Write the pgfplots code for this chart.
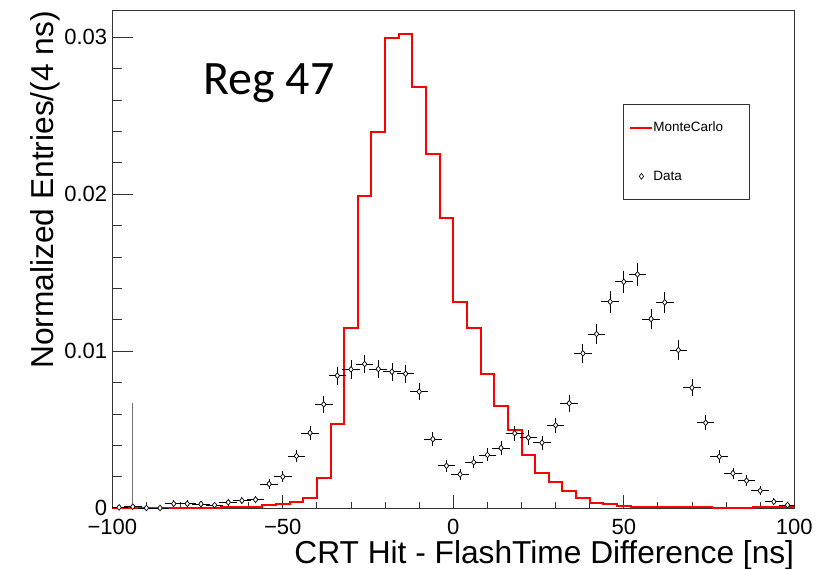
\documentclass[border=0pt]{standalone}
\usepackage{pgfplots}
\pgfplotsset{compat=1.18}
\usepackage{pgfplotstable}
\usepackage{fontspec}
\setmainfont{Liberation Sans}
\newfontfamily\carlito{Carlito}

\pgfplotsset{
  mcimg/.style={legend image code/.code={\draw[##1] (0pt,0pt) -- (22pt,0pt);}},
  dataimg/.style={legend image code/.code={\draw[mark repeat=2,mark phase=2,##1] plot coordinates {(0pt,0pt) (11pt,0pt) (22pt,0pt)};}},
  samebox/.style={at={(112.3pt,60.7pt)}, anchor=south west,
    scale only axis, width=682pt, height=497.3pt,
    xmin=-100, xmax=100, ymin=0, ymax=0.03168},
}

\pgfplotstableread{
x y
-100 0.00003
-96 0.00003
-92 0.00003
-88 0.00003
-84 0.00004
-80 0.00004
-76 0.00005
-72 0.00005
-68 0.00006
-64 0.00008
-60 0.00010
-56 0.00020
-52 0.00027
-48 0.00042
-44 0.00064
-40 0.00191
-36 0.00537
-32 0.01146
-28 0.01989
-24 0.02395
-20 0.02994
-16 0.03019
-12 0.02682
-8 0.02255
-4 0.01847
0 0.01316
4 0.01146
8 0.00855
12 0.00650
16 0.00499
20 0.00340
24 0.00227
28 0.00165
32 0.00109
36 0.00066
40 0.00034
44 0.00025
48 0.00017
52 0.00010
56 0.00009
60 0.00008
64 0.00007
68 0.00006
72 0.00006
76 0.00005
80 0.00005
84 0.00005
88 0.00006
92 0.00008
96 0.00007
100 0.00007
}\mctable

\pgfplotstableread{
x y ex ey
-98 0.00006 2 0.00004
-94 0.00010 2 0.00005
-90 0.00002 2 0.00008
-86 0.00002 2 0.00004
-82 0.00029 2 0.00008
-78 0.00029 2 0.00008
-74 0.00027 2 0.00008
-70 0.00020 2 0.00007
-66 0.00038 2 0.00010
-62 0.00049 2 0.00011
-58 0.00055 2 0.00011
-54 0.00155 2 0.00019
-50 0.00201 2 0.00022
-46 0.00333 2 0.00028
-42 0.00480 2 0.00034
-38 0.00662 2 0.00040
-34 0.00845 2 0.00045
-30 0.00885 2 0.00046
-26 0.00919 2 0.00047
-22 0.00887 2 0.00046
-18 0.00870 2 0.00046
-14 0.00857 2 0.00045
-10 0.00743 2 0.00042
-6 0.00441 2 0.00033
-2 0.00271 2 0.00025
2 0.00216 2 0.00023
6 0.00293 2 0.00026
10 0.00340 2 0.00029
14 0.00384 2 0.00030
18 0.00478 2 0.00034
22 0.00450 2 0.00033
26 0.00418 2 0.00032
30 0.00529 2 0.00036
34 0.00669 2 0.00040
38 0.00987 2 0.00049
42 0.01110 2 0.00052
46 0.01316 2 0.00056
50 0.01443 2 0.00059
54 0.01490 2 0.00060
58 0.01206 2 0.00054
62 0.01312 2 0.00056
66 0.01008 2 0.00049
70 0.00768 2 0.00043
74 0.00545 2 0.00036
78 0.00329 2 0.00028
82 0.00223 2 0.00023
86 0.00176 2 0.00021
90 0.00112 2 0.00016
94 0.00042 2 0.00010
98 0.00021 2 0.00007
}\datatable

\pgfplotstableread{
x y ey
-94 0.00010 0.00660
}\spiketable

\begin{document}
\begin{tikzpicture}
\useasboundingbox (0,0) rectangle (826pt,569pt);
% y ticks (longer) in a separate, frameless axis
\begin{axis}[samebox,
  axis line style={draw=none},
  xtick=\empty,
  ytick={0,0.01,0.02,0.03},
  yticklabels={0,0.01,0.02,0.03},
  minor y tick num=4,
  tick align=inside, ytick pos=left,
  major tick length=21pt, minor tick length=10pt,
  every tick/.style={black!80, line width=0.9pt},
  yticklabel style={font=\fontsize{22}{22}\selectfont, anchor=east, inner sep=0pt, xshift=-5pt},
  scaled y ticks=false,
]
\end{axis}
% frame, x ticks, histogram and error bars
\begin{axis}[samebox,
  axis line style={black!80, line width=1pt},
  xtick={-100,-50,0,50,100},
  xticklabels={−100,−50,0,50,100},
  minor x tick num=4,
  ytick=\empty,
  tick align=inside, xtick pos=left,
  major tick length=13pt, minor tick length=6pt,
  every tick/.style={black!80, line width=0.9pt},
  xticklabel style={font=\fontsize{22}{22}\selectfont, anchor=center, inner sep=0pt, yshift=-18.7pt},
]
\addplot[const plot, red, line width=2pt]
  table[x=x, y=y] {\mctable};

\addplot[only marks, mark=none,
  error bars/.cd, x dir=both, x explicit, y dir=both, y explicit,
  error bar style={black, line width=0.8pt},
  error mark options={black, mark size=2pt, line width=0.8pt}]
  table[x=x, y=y, x error=ex, y error=ey] {\datatable};

\addplot[only marks, mark=none,
  error bars/.cd, y dir=both, y explicit,
  error bar style={black!55, line width=1pt}, error mark=none]
  table[x=x, y=y, y error=ey] {\spiketable};
\end{axis}
% markers on top, and the legend
\begin{axis}[samebox, hide axis,
  legend style={at={(0.7493,0.8124)}, anchor=north west, draw=black!80, line width=0.8pt,
    font=\fontsize{13.5}{13.5}\selectfont, inner xsep=5.7pt, inner ysep=17.5pt, row sep=37.5pt,
    nodes={inner sep=0pt, text width=90pt, align=left}},
  legend cell align=left,
]
\addlegendimage{red, line width=2pt, mcimg}
\addlegendentry{MonteCarlo}
\addplot[only marks, draw=none, mark=diamond*, mark size=2.9pt,
  mark options={draw=black, fill=white, line width=0.6pt}, dataimg]
  table[x=x, y=y] {\datatable};
\addlegendentry{Data}
\end{axis}
\node[anchor=base east, inner sep=0pt, font=\fontsize{31.7}{31.7}\selectfont] at (794.3pt,5pt) {CRT Hit - FlashTime Difference [ns]};
\node[rotate=90, anchor=base east, inner sep=0pt, font=\fontsize{31.7}{31.7}\selectfont] at (53.3pt,558pt) {Normalized Entries/(4 ns)};
\node[anchor=base west, inner sep=0pt, font=\carlito\fontsize{48}{48}\selectfont] at (203pt,474pt) {Reg 47};
\end{tikzpicture}
\end{document}
